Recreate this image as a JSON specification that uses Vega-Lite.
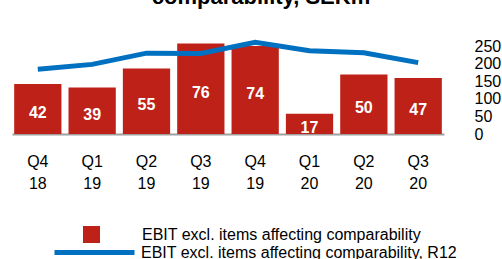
{
  "$schema": "https://vega.github.io/schema/vega-lite/v6.json",
  "autosize": {"type": "none"},
  "width": 432,
  "height": 94,
  "padding": {"left": 12, "top": 40, "right": 58, "bottom": 125},
  "background": "white",
  "title": {
    "text": ["EBIT excl. items affecting", "comparability, SEKm"],
    "fontSize": 22,
    "fontWeight": "bold",
    "font": "Liberation Sans",
    "color": "#000000",
    "anchor": "middle",
    "frame": "group",
    "baseline": "alphabetic",
    "lineHeight": 26,
    "offset": 22,
    "dx": 33,
    "dy": 16
  },
  "data": {
    "values": [
      {"q": "Q4 18", "ebit": 42, "r12": 184, "s1": "EBIT excl. items affecting comparability", "s2": "EBIT excl. items affecting comparability, R12"},
      {"q": "Q1 19", "ebit": 39, "r12": 198, "s1": "EBIT excl. items affecting comparability", "s2": "EBIT excl. items affecting comparability, R12"},
      {"q": "Q2 19", "ebit": 55, "r12": 230, "s1": "EBIT excl. items affecting comparability", "s2": "EBIT excl. items affecting comparability, R12"},
      {"q": "Q3 19", "ebit": 76, "r12": 229, "s1": "EBIT excl. items affecting comparability", "s2": "EBIT excl. items affecting comparability, R12"},
      {"q": "Q4 19", "ebit": 74, "r12": 261, "s1": "EBIT excl. items affecting comparability", "s2": "EBIT excl. items affecting comparability, R12"},
      {"q": "Q1 20", "ebit": 17, "r12": 237, "s1": "EBIT excl. items affecting comparability", "s2": "EBIT excl. items affecting comparability, R12"},
      {"q": "Q2 20", "ebit": 50, "r12": 231, "s1": "EBIT excl. items affecting comparability", "s2": "EBIT excl. items affecting comparability, R12"},
      {"q": "Q3 20", "ebit": 47, "r12": 203, "s1": "EBIT excl. items affecting comparability", "s2": "EBIT excl. items affecting comparability, R12"}
    ]
  },
  "encoding": {
    "x": {
      "field": "q",
      "type": "ordinal",
      "sort": null,
      "scale": {"paddingInner": 0.13, "paddingOuter": 0.04},
      "axis": {
        "title": null,
        "labelAngle": 0,
        "labelExpr": "split(datum.label, ' ')",
        "labelFontSize": 16,
        "labelFont": "Liberation Sans",
        "labelColor": "#000000",
        "labelLineHeight": 22,
        "labelPadding": 19,
        "ticks": false,
        "domainColor": "#A0A0A0",
        "domainWidth": 2
      }
    }
  },
  "layer": [
    {
      "mark": {"type": "bar", "color": "#BE2117"},
      "encoding": {
        "y": {"field": "ebit", "type": "quantitative", "scale": {"domain": [0, 79], "nice": false}, "axis": null},
        "color": {
          "field": "s1",
          "type": "nominal",
          "scale": {"range": ["#BE2117"]},
          "legend": {
            "title": null,
            "orient": "none",
            "legendX": 71,
            "legendY": 186,
            "padding": 0,
            "symbolType": "square",
            "symbolSize": 289,
            "symbolStrokeWidth": 0,
            "labelOffset": 42,
            "labelFontSize": 16,
            "labelFont": "Liberation Sans",
            "labelColor": "#000000",
            "labelLimit": 400
          }
        }
      }
    },
    {
      "mark": {"type": "text", "color": "white", "fontWeight": "bold", "fontSize": 16, "font": "Liberation Sans", "baseline": "middle", "dy": 4},
      "encoding": {
        "y": {"field": "ebit", "type": "quantitative", "scale": {"domain": [0, 158], "nice": false}, "axis": null},
        "text": {"field": "ebit", "type": "quantitative"}
      }
    },
    {
      "mark": {"type": "line", "strokeWidth": 5, "strokeCap": "butt"},
      "encoding": {
        "y": {
          "field": "r12",
          "type": "quantitative",
          "scale": {"domain": [0, 267.4], "nice": false},
          "axis": {
            "orient": "right",
            "title": null,
            "values": [0, 50, 100, 150, 200, 250],
            "grid": false,
            "ticks": false,
            "domain": false,
            "labelPadding": 30,
            "labelFontSize": 16,
            "labelFont": "Liberation Sans",
            "labelColor": "#000000"
          }
        },
        "stroke": {
          "field": "s2",
          "type": "nominal",
          "scale": {"range": ["#0070C0"]},
          "legend": {
            "title": null,
            "orient": "none",
            "legendX": 40,
            "legendY": 170,
            "padding": 0,
            "symbolType": "stroke",
            "symbolSize": 6400,
            "symbolStrokeWidth": 5,
            "labelOffset": 4,
            "labelFontSize": 16,
            "labelFont": "Liberation Sans",
            "labelColor": "#000000",
            "labelLimit": 400
          }
        }
      }
    }
  ],
  "resolve": {"scale": {"y": "independent"}},
  "config": {"view": {"stroke": null}}
}
